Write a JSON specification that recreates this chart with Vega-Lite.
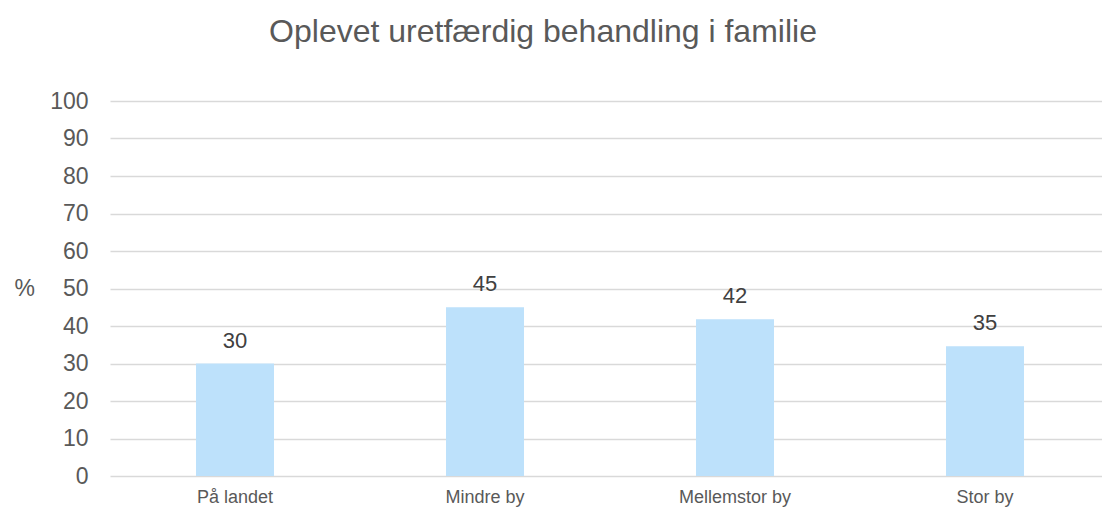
{
  "$schema": "https://vega.github.io/schema/vega-lite/v6.json",
  "width": 992,
  "height": 375,
  "autosize": {"type": "none"},
  "padding": {"left": 110, "top": 101, "right": 0, "bottom": 32},
  "background": "white",
  "title": {
    "text": "Oplevet uretfærdig behandling i familie",
    "font": "Liberation Sans",
    "fontSize": 32,
    "fontWeight": "normal",
    "color": "#595959",
    "anchor": "middle",
    "dx": -63,
    "offset": 41
  },
  "data": {
    "values": [
      {"kategori": "På landet", "pct": 30},
      {"kategori": "Mindre by", "pct": 45},
      {"kategori": "Mellemstor by", "pct": 41.8},
      {"kategori": "Stor by", "pct": 34.6}
    ]
  },
  "encoding": {
    "x": {
      "field": "kategori",
      "type": "nominal",
      "sort": null,
      "scale": {"range": [0, 1000], "paddingInner": 0.688, "paddingOuter": 0.344},
      "axis": {
        "title": null,
        "labelAngle": 0,
        "labelFont": "Liberation Sans",
        "labelFontSize": 18,
        "labelColor": "#595959",
        "labelPadding": 12,
        "ticks": false,
        "domain": false
      }
    },
    "y": {
      "field": "pct",
      "type": "quantitative",
      "scale": {"domain": [0, 100], "nice": false},
      "axis": {
        "values": [0, 10, 20, 30, 40, 50, 60, 70, 80, 90, 100],
        "title": "%",
        "titleAngle": 0,
        "titleAlign": "left",
        "titleBaseline": "middle",
        "titleX": -96,
        "titleY": 187,
        "titleFont": "Liberation Sans",
        "titleFontSize": 23,
        "titleFontWeight": "normal",
        "titleColor": "#595959",
        "labelFont": "Liberation Sans",
        "labelFontSize": 23,
        "labelColor": "#595959",
        "labelPadding": 22,
        "ticks": false,
        "domain": false,
        "grid": true,
        "gridColor": "#d9d9d9",
        "gridWidth": 1.5
      }
    }
  },
  "layer": [
    {"mark": {"type": "bar", "color": "#bde1fb"}},
    {
      "mark": {
        "type": "text",
        "font": "Liberation Sans",
        "fontSize": 22,
        "color": "#404040",
        "baseline": "alphabetic",
        "dy": -16
      },
      "encoding": {
        "text": {"field": "pct", "type": "quantitative", "format": ".0f"}
      }
    }
  ],
  "config": {"view": {"stroke": null}}
}
